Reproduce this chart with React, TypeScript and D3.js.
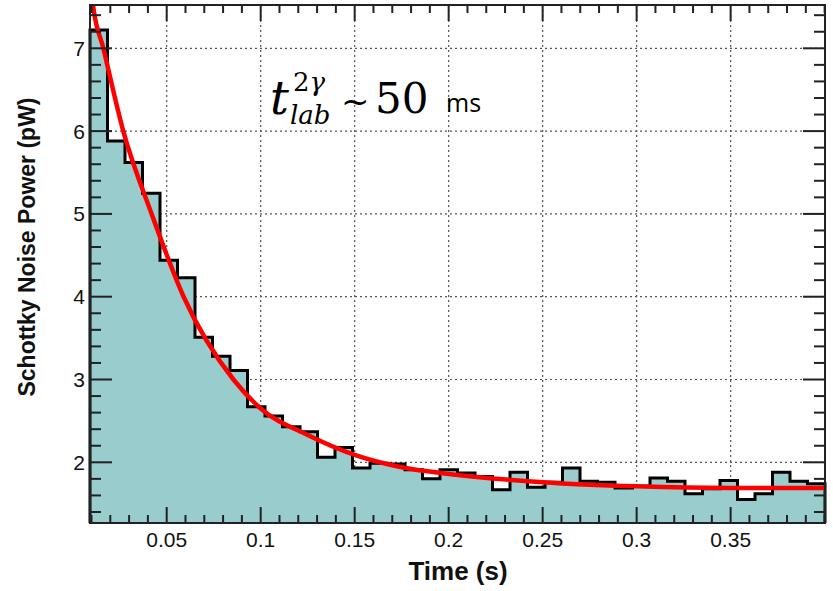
import { useEffect, useRef } from 'react';
import * as d3 from 'd3';

// histogram range and bin contents (pW), 42 equal bins
const binLow = 0.0092;
const binHigh = 0.4002;
const binValues = [
  7.22, 5.88, 5.62, 5.25, 4.44, 4.23, 3.51, 3.28, 3.11, 2.67,
  2.56, 2.43, 2.37, 2.06, 2.18, 1.93, 1.99, 1.98, 1.91, 1.8,
  1.91, 1.87, 1.83, 1.67, 1.88, 1.7, 1.76, 1.93, 1.77, 1.76,
  1.69, 1.71, 1.81, 1.77, 1.62, 1.68, 1.78, 1.55, 1.62, 1.88,
  1.77, 1.74,
];

// exponential fit, points
const fitTimes = [0.0092, 0.0108, 0.0163, 0.0269, 0.042, 0.059, 0.0855, 0.1, 0.125, 0.15, 0.175, 0.2, 0.25, 0.3, 0.35, 0.4002];
const fitValues = [7.85, 7.52, 7.0, 6.0, 5.0, 4.0, 3.0, 2.65, 2.33, 2.09, 1.94, 1.86, 1.76, 1.71, 1.69, 1.69];

const xTickValues = [0.05, 0.1, 0.15, 0.2, 0.25, 0.3, 0.35];
const xTickLabels = ['0.05', '0.1', '0.15', '0.2', '0.25', '0.3', '0.35'];
const yTickValues = [2, 3, 4, 5, 6, 7];
const yTickLabels = ['2', '3', '4', '5', '6', '7'];

const App = () => {
  const svgRef = useRef<SVGSVGElement>(null);

  useEffect(() => {
    const svg = d3.select(svgRef.current);
    svg.selectAll('*').remove();

    const left = 90;
    const right = 825;
    const top = 5;
    const bottom = 523;

    const x = d3.scaleLinear().domain([binLow, binHigh]).range([left, right]);
    const y = d3.scaleLinear().domain([1.267, 7.523]).range([bottom, top]);

    svg.append('rect').attr('width', 833).attr('height', 591).attr('fill', '#fff');

    // clip for curve
    svg
      .append('defs')
      .append('clipPath')
      .attr('id', 'plotClip')
      .append('rect')
      .attr('x', left)
      .attr('y', top)
      .attr('width', right - left)
      .attr('height', bottom - top);

    // dotted grid
    const grid = svg.append('g').attr('stroke', '#555').attr('stroke-width', 1.2).attr('stroke-dasharray', '2,3');
    xTickValues.forEach((v) => {
      grid.append('line').attr('x1', x(v)).attr('x2', x(v)).attr('y1', top).attr('y2', bottom);
    });
    yTickValues.forEach((v) => {
      grid.append('line').attr('x1', left).attr('x2', right).attr('y1', y(v)).attr('y2', y(v));
    });

    // histogram as steps
    const binWidth = (binHigh - binLow) / binValues.length;
    const pts: [number, number][] = [[x(binLow), bottom]];
    binValues.forEach((v, i) => {
      pts.push([x(binLow + i * binWidth), y(v)]);
      pts.push([x(binLow + (i + 1) * binWidth), y(v)]);
    });
    pts.push([x(binHigh), bottom]);

    svg
      .append('path')
      .attr('d', d3.line()(pts) + 'Z')
      .attr('fill', '#99cccc')
      .attr('stroke', 'none');

    svg
      .append('path')
      .attr('d', d3.line()(pts))
      .attr('fill', 'none')
      .attr('stroke', '#000')
      .attr('stroke-width', 3)
      .attr('stroke-linejoin', 'miter');

    // fit curve
    const fitLine = d3
      .line<number>()
      .x((_, i) => x(fitTimes[i]))
      .y((d) => y(d))
      .curve(d3.curveMonotoneX);

    svg
      .append('path')
      .datum(fitValues)
      .attr('clip-path', 'url(#plotClip)')
      .attr('d', fitLine)
      .attr('fill', 'none')
      .attr('stroke', '#ff0000')
      .attr('stroke-width', 4.5);

    // frame
    svg
      .append('rect')
      .attr('x', left)
      .attr('y', top)
      .attr('width', right - left)
      .attr('height', bottom - top)
      .attr('fill', 'none')
      .attr('stroke', '#222')
      .attr('stroke-width', 2);

    // ticks
    const ticks = svg.append('g').attr('stroke', '#222').attr('stroke-width', 2);
    const xMinor = d3.range(0.01, 0.4001, 0.01);
    xMinor.forEach((v) => {
      const major = xTickValues.some((m) => Math.abs(m - v) < 1e-6);
      const len = major ? 16 : 8;
      ticks.append('line').attr('x1', x(v)).attr('x2', x(v)).attr('y1', bottom).attr('y2', bottom - len);
      ticks.append('line').attr('x1', x(v)).attr('x2', x(v)).attr('y1', top).attr('y2', top + len);
    });
    const yMinor = d3.range(1.4, 7.5, 0.2);
    yMinor.forEach((v) => {
      const major = yTickValues.some((m) => Math.abs(m - v) < 1e-6);
      const len = major ? 22 : 11;
      ticks.append('line').attr('x1', left).attr('x2', left + len).attr('y1', y(v)).attr('y2', y(v));
      ticks.append('line').attr('x1', right).attr('x2', right - len).attr('y1', y(v)).attr('y2', y(v));
    });

    // tick labels
    const font = 'Liberation Sans, Arial, sans-serif';
    xTickValues.forEach((v, i) => {
      svg
        .append('text')
        .attr('x', x(v))
        .attr('y', 547)
        .attr('text-anchor', 'middle')
        .attr('font-family', font)
        .attr('font-size', 21)
        .attr('fill', '#111')
        .text(xTickLabels[i]);
    });
    yTickValues.forEach((v, i) => {
      svg
        .append('text')
        .attr('x', 85)
        .attr('y', y(v) + 7.5)
        .attr('text-anchor', 'end')
        .attr('font-family', font)
        .attr('font-size', 21)
        .attr('fill', '#111')
        .text(yTickLabels[i]);
    });

    // axis titles
    svg
      .append('text')
      .attr('x', 458)
      .attr('y', 580)
      .attr('text-anchor', 'middle')
      .attr('font-family', font)
      .attr('font-size', 26)
      .attr('font-weight', 'bold')
      .attr('fill', '#111')
      .text('Time (s)');

    svg
      .append('text')
      .attr('transform', 'translate(35,247) rotate(-90)')
      .attr('text-anchor', 'middle')
      .attr('font-family', font)
      .attr('font-size', 23)
      .attr('font-weight', 'bold')
      .attr('fill', '#111')
      .text('Schottky Noise Power (pW)');

    // annotation
    const serif = 'DejaVu Serif, serif';
    const ann = svg.append('g').attr('fill', '#000');
    ann.append('text').attr('x', 270).attr('y', 114).attr('font-family', serif).attr('font-style', 'italic').attr('font-size', 47).text('t');
    const sup = ann.append('text').attr('x', 293).attr('y', 91).attr('font-family', serif).attr('font-size', 26);
    sup.append('tspan').text('2');
    sup.append('tspan').attr('font-style', 'italic').text('γ');
    ann.append('text').attr('x', 290).attr('y', 124).attr('font-family', serif).attr('font-style', 'italic').attr('font-size', 26).text('lab');
    ann.append('text').attr('x', 341).attr('y', 113).attr('font-family', serif).attr('font-size', 34).text('~');
    ann.append('text').attr('x', 375).attr('y', 113).attr('font-family', serif).attr('font-size', 42).text('50');
    ann.append('text').attr('x', 446).attr('y', 112).attr('font-family', 'Open Sans, sans-serif').attr('font-size', 25).text('ms');
  }, []);

  return <svg ref={svgRef} width={833} height={591} style={{ position: 'absolute', left: 0, top: 0 }} />;
};

export default App;
